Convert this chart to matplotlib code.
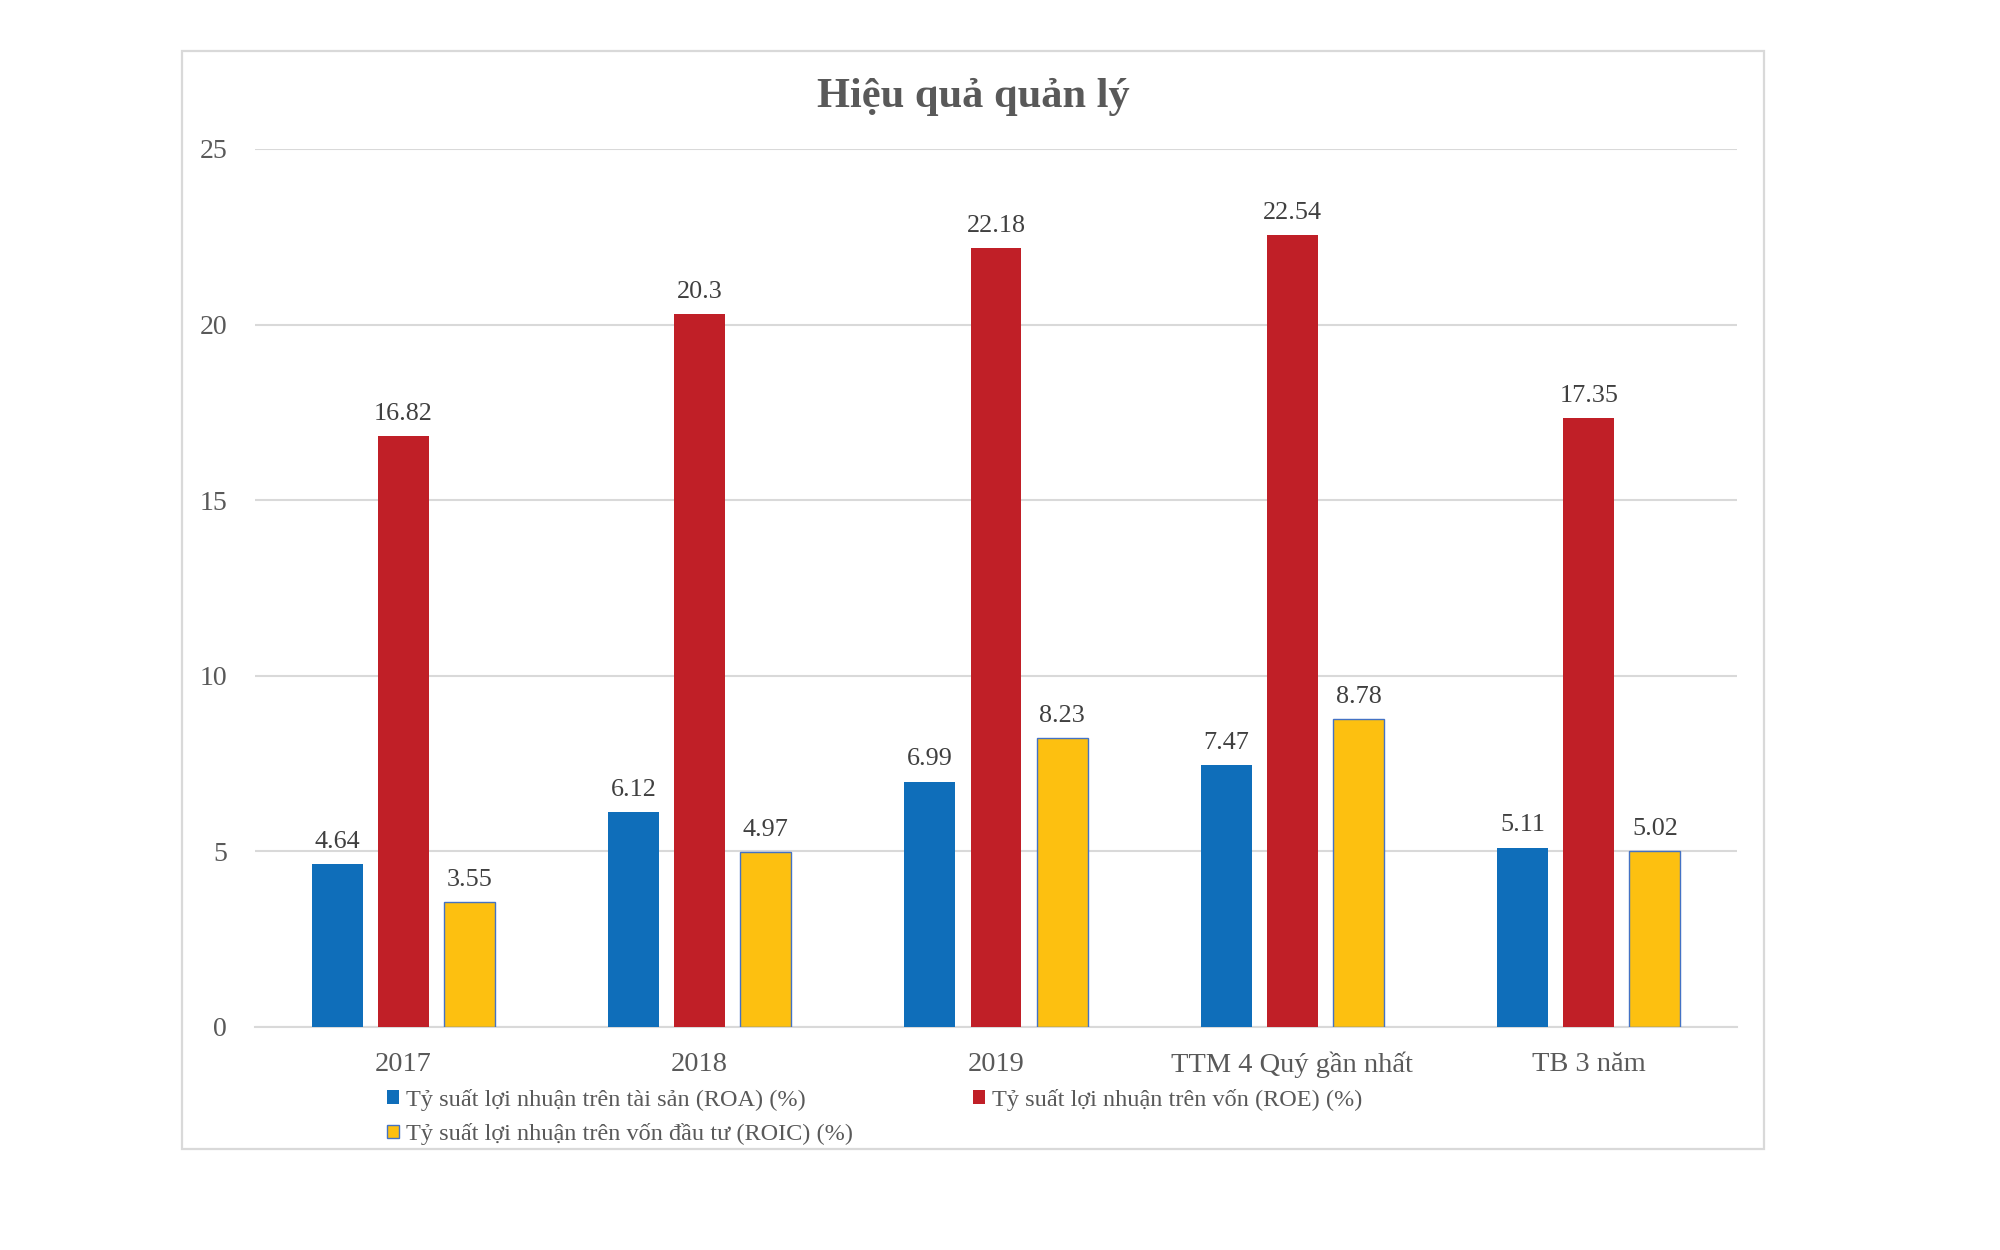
import matplotlib
matplotlib.use('Agg')
import matplotlib.pyplot as plt
import matplotlib.patches as mpatches
import numpy as np

plt.rcParams['font.family'] = ['Liberation Serif', 'DejaVu Serif']

categories = ['2017', '2018', '2019', 'TTM 4 Quý gần nhất', 'TB 3 năm']
roa = [4.64, 6.12, 6.99, 7.47, 5.11]
roe = [16.82, 20.3, 22.18, 22.54, 17.35]
roic = [3.55, 4.97, 8.23, 8.78, 5.02]
series_names = ['Tỷ suất lợi nhuận trên tài sản (ROA) (%)',
                'Tỷ suất lợi nhuận trên vốn (ROE) (%)',
                'Tỷ suất lợi nhuận trên vốn đầu tư (ROIC) (%)']
yticks = [0, 5, 10, 15, 20, 25]

blue = '#0F6EBA'
red = '#C01F27'
yellow = '#FDC010'
grid_col = '#D9D9D9'
text_col = '#595959'
label_col = '#404040'

fig = plt.figure(figsize=(20, 12.5), dpi=100)

# outer frame
frame = mpatches.Rectangle((182 / 2000, 1 - 1149 / 1250), (1764 - 182) / 2000, (1149 - 51) / 1250,
                           transform=fig.transFigure, fill=False, edgecolor=grid_col, linewidth=1.6)
fig.patches.append(frame)

ax = fig.add_axes([255 / 2000, 1 - 1027 / 1250, (1737 - 255) / 2000, (1027 - 149) / 1250])

x = np.arange(len(categories))
width = 0.172
step = 0.223

b1 = ax.bar(x - step, roa, width, color=blue, zorder=3)
b2 = ax.bar(x, roe, width, color=red, zorder=3)
b3 = ax.bar(x + step, roic, width, color=yellow, edgecolor='#4472C4', linewidth=1.0, zorder=3)

for bars, vals in [(b1, roa), (b2, roe), (b3, roic)]:
    ax.bar_label(bars, labels=[f'{v:g}' for v in vals], padding=8,
                 fontsize=18.8, color=label_col)

ax.set_xlim(-0.5, len(categories) - 0.5)
ax.set_ylim(0, 25)
ax.set_yticks(yticks)
ax.yaxis.grid(True, color=grid_col, linewidth=1.5, zorder=0)
ax.set_axisbelow(True)
ax.set_xticks(x)
ax.set_xticklabels(categories)
ax.tick_params(axis='y', length=0, pad=20, labelsize=20, labelcolor=text_col)
ax.tick_params(axis='x', length=0, pad=18, labelsize=20.5, labelcolor=text_col)
for s in ['top', 'right', 'left']:
    ax.spines[s].set_visible(False)
ax.spines['bottom'].set_color(grid_col)
ax.spines['bottom'].set_linewidth(1.5)

fig.text(973 / 2000, 1 - 97 / 1250, 'Hiệu quả quản lý', ha='center', va='center',
         fontsize=30.5, fontweight='bold', color=text_col)

handles = [mpatches.Patch(facecolor=blue),
           mpatches.Patch(facecolor=yellow, edgecolor='#4472C4', linewidth=1.0),
           mpatches.Patch(facecolor=red)]
labels = [series_names[0], series_names[2], series_names[1]]
leg = fig.legend(handles, labels, loc='upper left', bbox_to_anchor=(387 / 2000, 1 - 1089 / 1250),
                 ncol=2, frameon=False, fontsize=17.5, handlelength=0.5, handleheight=0.5,
                 handletextpad=0.3, columnspacing=4.9, labelspacing=0.5, borderpad=0,
                 borderaxespad=0)
for t in leg.get_texts():
    t.set_color(text_col)

plt.savefig('out.png', dpi=100)
